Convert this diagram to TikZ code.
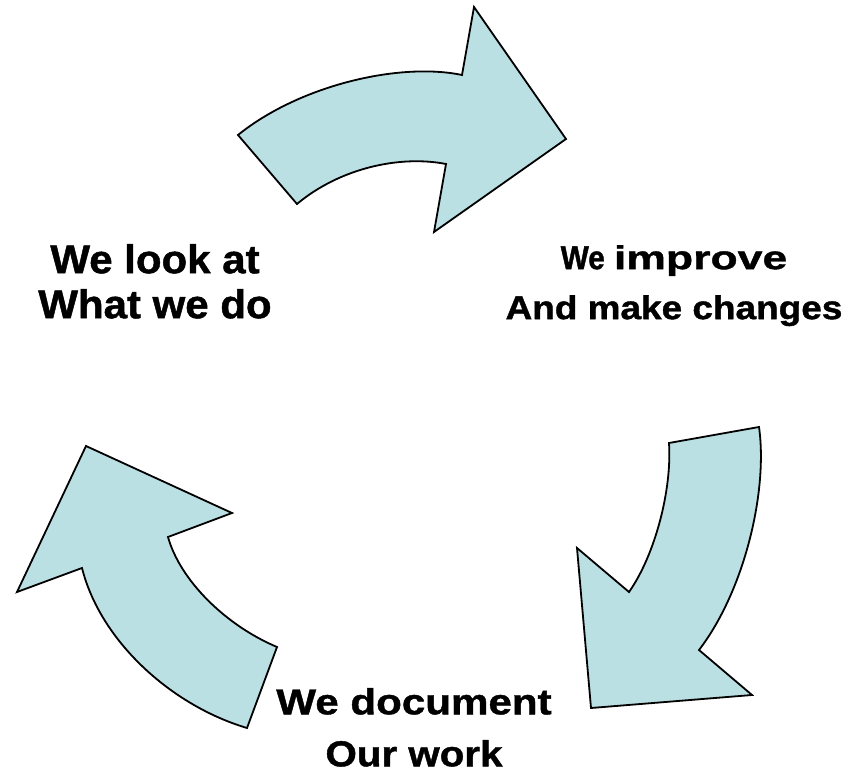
\documentclass[tikz,border=0pt]{standalone}
\usepackage{fontspec}
\setmainfont{Liberation Sans}
\usepackage{xcolor}
\definecolor{arrowblue}{HTML}{BBE0E3}
\tikzset{
    cycle-arrow/.style = {draw=black, fill=arrowblue, line width=1.8pt, line join=miter},
    cycle-label/.style = {align=center, inner sep=0pt, anchor=north},
}

\begin{document}
\begin{tikzpicture}[x=1pt, y=-1pt]
\useasboundingbox (0,0) rectangle (861,775);
% top arrow, pointing right
\draw[cycle-arrow] (238,135) -- (297,204) .. controls (340,168) and (400,155) .. (446,164) -- (434,232) -- (566,139) -- (474,7) -- (462,75) .. controls (400,62) and (300,85) .. (238,135) -- cycle;
% right arrow, pointing down
\draw[cycle-arrow] (669,443) -- (759,427) .. controls (768,490) and (745,590) .. (699,650) -- (752,695) -- (591,708) -- (577,548) -- (629,592) .. controls (655,555) and (672,490) .. (669,443) -- cycle;
% left arrow, pointing up
\draw[cycle-arrow] (277,647) -- (247,728) .. controls (170,705) and (100,640) .. (82,568) -- (17,592) -- (86,446) -- (232,513) -- (168,537) .. controls (180,580) and (225,625) .. (277,647) -- cycle;

\node[cycle-label, font=\bfseries\fontsize{40}{45}\selectfont\addfontfeature{FakeBold=1.2}] (look) at (155,244) {{\addfontfeature{FakeStretch=1.05}We look at}\\{\addfontfeature{FakeStretch=1.05}What we do}};
\node[cycle-label, font=\bfseries\fontsize{33}{50}\selectfont\addfontfeature{FakeBold=1.2}] (improve) at (674,245) {{\addfontfeature{FakeStretch=0.9}We} {\addfontfeature{FakeStretch=1.35}improve}\\{\addfontfeature{FakeStretch=1.12}And make changes}};
\node[cycle-label, font=\bfseries\fontsize{36}{52}\selectfont\addfontfeature{FakeBold=1.2}] (document) at (414,688) {{\addfontfeature{FakeStretch=1.17}We document}\\{\addfontfeature{FakeStretch=1.12}Our work}};
\end{tikzpicture}
\end{document}
